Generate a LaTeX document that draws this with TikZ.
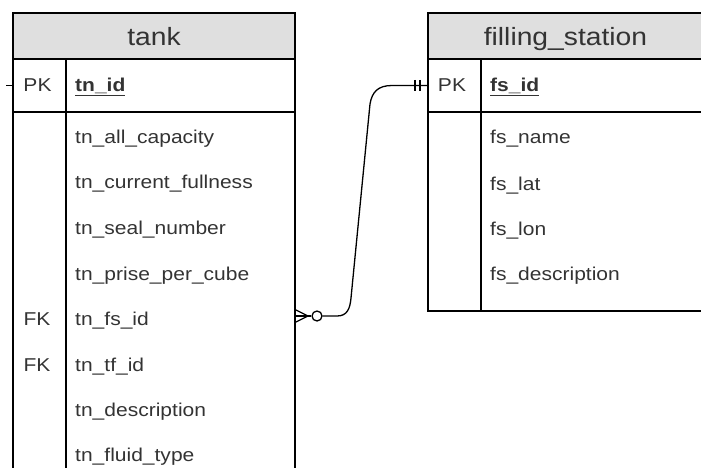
\documentclass[tikz,border=0pt]{standalone}
\usepackage{fontspec}
\setmainfont{Liberation Sans}[FakeStretch=1.13]
\definecolor{txt}{HTML}{333333}
\definecolor{hdrfill}{HTML}{DFDFDF}
\tikzset{
  frame/.style={draw=black, line width=1.4pt},
  hdr/.style={frame, fill=hdrfill, inner sep=0pt, text=txt,
    font=\fontsize{25}{30}\selectfont},
  hdrtext/.style={anchor=base, inner sep=0pt, text=txt,
    font=\fontsize{25}{30}\selectfont},
  keytext/.style={anchor=base, inner sep=0pt, text=txt,
    font=\fontsize{18.6}{22}\selectfont},
  field/.style={anchor=base west, inner sep=0pt, text=txt,
    font=\fontsize{18.6}{22}\selectfont},
  rel/.style={draw=black, line width=1.3pt},
}
\begin{document}
\begin{tikzpicture}[x=1pt,y=-1pt]
\useasboundingbox (0,0) rectangle (701,468);
\clip (0,0) rectangle (701,468);

% ---- table: tank ----
\path[frame, fill=hdrfill] (13,13) rectangle (295,59);
\node[hdrtext] (tankTitle) at (154,45.7) {tank};
\draw[frame] (13,59) -- (13,480);
\draw[frame] (295,59) -- (295,480);
\draw[frame] (13,112) -- (295,112);
\draw[frame] (66,59) -- (66,480);

\node[keytext] (tankPK) at (37.5,91.5) {PK};
\node[field] (tnid) at (75,91.5) {\underline{\textbf{tn\_id}}};
\node[field] (f1) at (75,143) {tn\_all\_capacity};
\node[field] (f2) at (75,188.5) {tn\_current\_fullness};
\node[field] (f3) at (75,234) {tn\_seal\_number};
\node[field] (f4) at (75,280) {tn\_prise\_per\_cube};
\node[keytext] (fk1) at (37,325.5) {FK};
\node[field] (f5) at (75,325.5) {tn\_fs\_id};
\node[keytext] (fk2) at (37,371) {FK};
\node[field] (f6) at (75,371) {tn\_tf\_id};
\node[field] (f7) at (75,416.5) {tn\_description};
\node[field] (f8) at (75,461.5) {tn\_fluid\_type};

% short link stub on the left of tn_id
\coordinate (stubA) at (6,85.5);
\coordinate (stubB) at (13,85.5);
\draw[rel] (stubA) -- (stubB);

% ---- table: filling_station ----
\path[frame, fill=hdrfill] (428,13) rectangle (706,59);
\node[hdrtext] (fsTitle) at (565.5,45.7) {filling\_station};
\draw[frame] (428,59) rectangle (706,311);
\draw[frame] (428,112) -- (706,112);
\draw[frame] (481,59) -- (481,311);

\node[keytext] (fsPK) at (452,91.5) {PK};
\node[field] (fsid) at (490,91.5) {\underline{\textbf{fs\_id}}};
\node[field] (g1) at (490,143) {fs\_name};
\node[field] (g2) at (490,190) {fs\_lat};
\node[field] (g3) at (490,235) {fs\_lon};
\node[field] (g4) at (490,280) {fs\_description};

% ---- relationship: tank.tn_fs_id (many, optional) -> filling_station.fs_id (one) ----
\coordinate (manyEnd) at (295,316);
\coordinate (footTip) at (308,316);
\coordinate (oneEnd) at (428,85.5);
\node[circle, draw=black, line width=1.3pt, fill=white, inner sep=0pt,
      minimum size=10pt] (ring) at (317,316) {};
\draw[rel] (manyEnd) ++(0,-6.5) -- (footTip);
\draw[rel] (manyEnd) -- (footTip);
\draw[rel] (manyEnd) ++(0,6.5) -- (footTip);
\draw[rel] (footTip) -- (ring.west);
\draw[rel] (ring.east) -- (337,316)
  .. controls (347,316) and (350,309) .. (351,298)
  -- (370,104)
  .. controls (372,92) and (378,85.5) .. (392,85.5)
  -- (oneEnd);
\draw[rel] (415,80) -- (415,91);
\draw[rel] (420,80) -- (420,91);
\end{tikzpicture}
\end{document}
